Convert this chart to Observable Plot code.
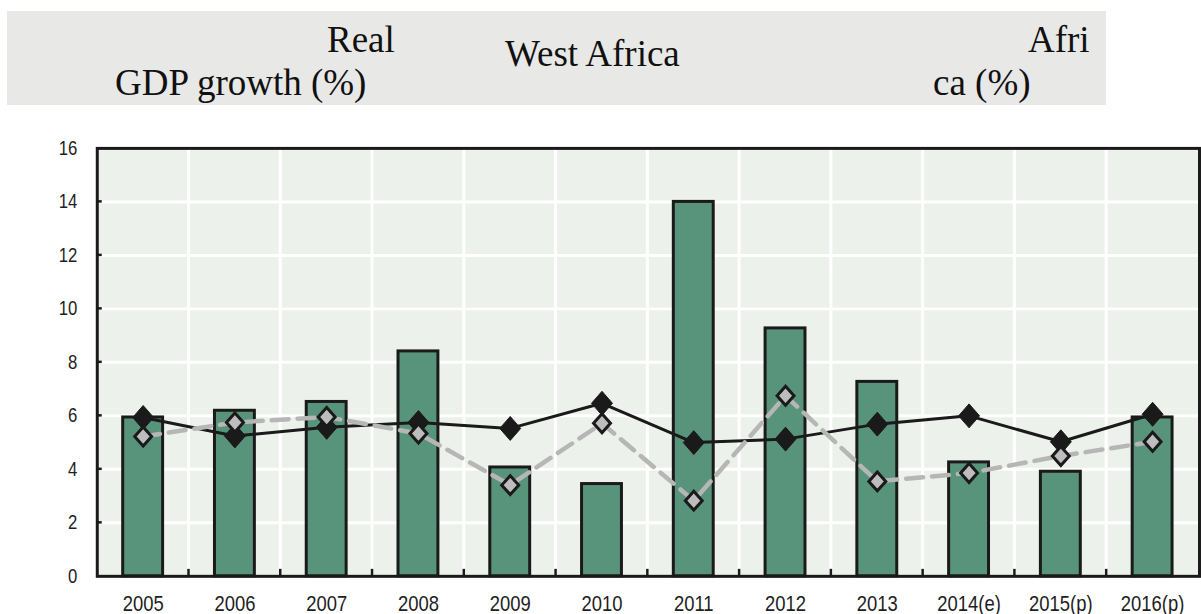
<!DOCTYPE html>
<html>
<head>
<meta charset="utf-8">
<script src="https://cdn.jsdelivr.net/npm/d3@7"></script>
<script src="https://cdn.jsdelivr.net/npm/@observablehq/plot@0.6"></script>
<style>
  html, body { margin: 0; padding: 0; background: #fff; }
  #page { position: relative; width: 1201px; height: 614px; overflow: hidden; }
  #header { position: absolute; left: 7px; top: 11px; width: 1099px; height: 94px; background: #e8e8e7; }
  .ht { position: absolute; font-family: "Liberation Serif", "Times New Roman", serif; font-size: 37px; line-height: 37px; color: #111; white-space: nowrap; }
  #chart { position: absolute; left: 0; top: 110px; }
</style>
</head>
<body>
<div id="page">
  <div id="header"></div>
  <span class="ht" style="left:327px; top:21px;">Real</span>
  <span class="ht" style="left:115px; top:64px;">GDP growth (%)</span>
  <span class="ht" style="left:505px; top:35px;">West Africa</span>
  <span class="ht" style="left:1028px; top:21px;">Afri</span>
  <span class="ht" style="left:933px; top:64px;">ca (%)</span>
  <div id="chart"></div>
</div>
<script>
// ---- data ----
const years = ["2005","2006","2007","2008","2009","2010","2011","2012","2013","2014(e)","2015(p)","2016(p)"];
const barValues = [5.94, 6.19, 6.52, 8.41, 4.07, 3.45, 14.0, 9.27, 7.27, 4.26, 3.91, 5.94];
const blackLineValues = [5.94, 5.25, 5.57, 5.75, 5.53, 6.47, 5.0, 5.13, 5.69, 6.0, 5.03, 6.06];
const greyLineValues = [5.23, 5.75, 5.96, 5.34, 3.41, 5.72, 2.83, 6.75, 3.55, 3.86, 4.5, 5.03];
const yTicks = [0, 2, 4, 6, 8, 10, 12, 14, 16];

const rows = years.map((year, i) => ({year, bar: barValues[i], black: blackLineValues[i], grey: greyLineValues[i]}));

// ---- layout ----
const W = 1204, H = 504, ML = 97, MR = 2, MT = 38, MB = 37;
const step = (W - ML - MR) / years.length;
const axisFont = '"Liberation Sans", Arial, sans-serif';

function diamondSymbol(hw, hh) {
  return {
    draw(ctx) {
      ctx.moveTo(0, -hh);
      ctx.lineTo(hw, 0);
      ctx.lineTo(0, hh);
      ctx.lineTo(-hw, 0);
      ctx.closePath();
    }
  };
}

// vertical white grid lines at band boundaries + small ticks (drawn via scales)
function bandBoundaries(kind) {
  return (index, scales, values, dims) => {
    const g = d3.create("svg:g");
    const y0 = scales.y(0), y1 = scales.y(16);
    years.slice(1).forEach(yr => {
      const xb = scales.x(yr) + (scales.x.bandwidth ? scales.x.bandwidth() / 2 : 0) - step / 2;
      if (kind === "grid") {
        g.append("line").attr("x1", xb).attr("x2", xb).attr("y1", y1).attr("y2", y0)
          .attr("stroke", "#ffffff").attr("stroke-width", 3);
      } else {
        g.append("line").attr("x1", xb).attr("x2", xb).attr("y1", y0).attr("y2", y0 - 7)
          .attr("stroke", "#1a1a1a").attr("stroke-width", 2.5);
      }
    });
    if (kind === "ticks") {
      yTicks.slice(1, -1).forEach(v => {
        g.append("line").attr("x1", dims.marginLeft).attr("x2", dims.marginLeft + 5)
          .attr("y1", scales.y(v)).attr("y2", scales.y(v))
          .attr("stroke", "#1a1a1a").attr("stroke-width", 2.5);
      });
    }
    return g.node();
  };
}

const chart = Plot.plot({
  width: W, height: H,
  marginLeft: ML, marginRight: MR, marginTop: MT, marginBottom: MB,
  style: {background: "transparent", fontFamily: axisFont, color: "#1e1e1e", overflow: "visible"},
  x: {domain: years, paddingInner: 0.565, paddingOuter: 0.2825, axis: null, label: null},
  y: {domain: [0, 16], axis: null, label: null},
  marks: [
    Plot.frame({fill: "#edf1ec", stroke: null}),
    Plot.ruleY(yTicks.slice(1, -1), {stroke: "#ffffff", strokeWidth: 3}),
    bandBoundaries("grid"),
    Plot.barY(rows, {x: "year", y: "bar", fill: "#58937b", stroke: "#1a1a1a", strokeWidth: 3}),
    Plot.line(rows, {x: "year", y: "black", stroke: "#1a1a1a", strokeWidth: 3}),
    Plot.line(rows, {x: "year", y: "grey", stroke: "#b6b6b6", strokeWidth: 4.5, strokeDasharray: "17,9"}),
    Plot.dot(rows, {x: "year", y: "black", symbol: diamondSymbol(10.5, 12), fill: "#1a1a1a", stroke: "#1a1a1a", strokeWidth: 1}),
    Plot.dot(rows, {x: "year", y: "grey", symbol: diamondSymbol(8.5, 9.5), fill: "#bdbdbd", stroke: "#1a1a1a", strokeWidth: 3}),
    Plot.frame({stroke: "#1a1a1a", strokeWidth: 3}),
    bandBoundaries("ticks"),
    Plot.axisX({tickSize: 0, tickPadding: 19, label: null}),
    Plot.axisY({ticks: yTicks, tickSize: 0, tickPadding: 20, label: null, tickFormat: d => String(d)})
  ]
});
// narrow sans look of the original: explicit sizes + horizontal condensing
d3.select(chart).selectAll("g[aria-label='x-axis tick label']").attr("font-size", 22).style("font-size", "22px");
d3.select(chart).selectAll("g[aria-label='y-axis tick label']").attr("font-size", 20).style("font-size", "20px");
d3.select(chart).selectAll("g[aria-label$='tick label'] text").each(function () {
  const t = this.getAttribute("transform") || "";
  this.setAttribute("transform", t + " scale(0.84,1)");
});
document.getElementById("chart").appendChild(chart);
</script>
</body>
</html>
